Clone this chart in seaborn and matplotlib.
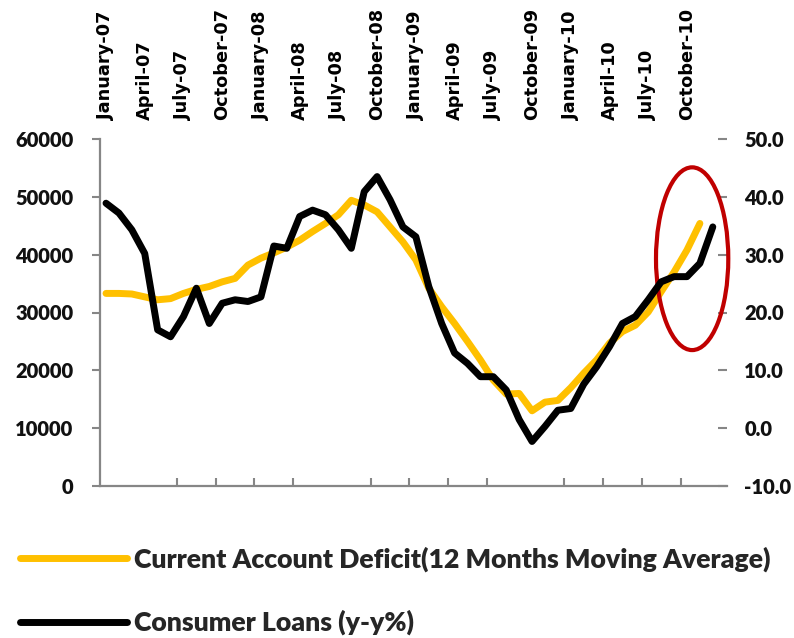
import numpy as np
import pandas as pd
import matplotlib
matplotlib.use("Agg")
import matplotlib.pyplot as plt
import seaborn as sns
from matplotlib.patches import Ellipse
from matplotlib.font_manager import FontProperties

# ---------------- data ----------------
months = pd.date_range("2007-01-01", periods=48, freq="MS").strftime("%b-%y").tolist()

tick_labels = ["January-07", "April-07", "July-07", "October-07",
               "January-08", "April-08", "July-08", "October-08",
               "January-09", "April-09", "July-09", "October-09",
               "January-10", "April-10", "July-10", "October-10"]

current_account = [33300, 33300, 33200, 32700, 32200, 32400, 33300, 34000,
                   34500, 35300, 35900, 38200, 39400, 40300, 41300, 42500,
                   44000, 45400, 46900, 49400, 48600, 47400, 44800, 42200,
                   39100, 34200, 31000, 28100, 25000, 21800, 18300, 15900,
                   16000, 13000, 14500, 14800, 17000, 19500, 21800, 24700,
                   26700, 27800, 30100, 33600, 37000, 40800, 45400]

consumer_loans = [38.9, 37.2, 34.3, 30.2, 17.0, 15.8, 19.3, 24.2,
                  18.1, 21.6, 22.2, 21.9, 22.7, 31.5, 31.1, 36.6,
                  37.7, 36.9, 34.3, 31.1, 40.9, 43.5, 39.5, 34.8,
                  33.1, 24.5, 18.1, 13.0, 11.2, 8.9, 8.9, 6.6,
                  1.5, -2.3, 0.3, 3.1, 3.4, 7.6, 10.6, 14.1,
                  18.1, 19.3, 22.2, 25.3, 26.2, 26.2, 28.5, 34.8]

left_ticks = [0, 10000, 20000, 30000, 40000, 50000, 60000]
right_ticks = [-10, 0, 10, 20, 30, 40, 50]

series_names = ["Current Account Deficit(12 Months Moving Average)",
                "Consumer Loans (y-y%)"]

# ---------------- style ----------------
sns.set_theme(style="white")
plt.rcParams['font.family'] = ['Lato', 'DejaVu Sans']

AXIS_GRAY = "#868686"
ORANGE = "#FFC000"

fig = plt.figure(figsize=(7.94, 6.38), dpi=100)
ax = fig.add_axes([100 / 794, 152 / 638, 627 / 794, 347 / 638])
ax2 = ax.twinx()

df_ca = pd.DataFrame({"idx": np.arange(len(current_account)),
                      "month": months[:len(current_account)],
                      "value": current_account})
df_cl = pd.DataFrame({"idx": np.arange(len(consumer_loans)),
                      "month": months[:len(consumer_loans)],
                      "value": consumer_loans})

sns.lineplot(data=df_ca, x="idx", y="value", ax=ax, color=ORANGE,
             linewidth=5, solid_capstyle="round", solid_joinstyle="round",
             legend=False)
sns.lineplot(data=df_cl, x="idx", y="value", ax=ax2, color="black",
             linewidth=5, solid_capstyle="round", solid_joinstyle="round",
             legend=False, zorder=3)

ax.set_xlim(-0.465, 48.1)
ax.set_ylim(0, 60000)
ax2.set_ylim(-10, 50)

# left axis
ax.set_yticks(left_ticks)
ax.set_yticklabels([f"{v}" for v in left_ticks])
ax.tick_params(axis="y", which="major", left=True, right=False, direction="out",
               length=6, width=1.5, color=AXIS_GRAY, pad=13,
               labelsize=14.5, labelcolor="#111111")
for lab in ax.get_yticklabels():
    lab.set_fontweight("heavy")

# top labels (major) + bottom marks (minor)
ax.set_xticks(np.arange(0, 48, 3))
ax.set_xticklabels(tick_labels, rotation=90, fontfamily="DejaVu Sans",
                   fontweight="bold", fontsize=12.8)
ax.tick_params(axis="x", which="major", bottom=False, top=True, labelbottom=False,
               labeltop=True, length=0, pad=14, labelcolor="black")
ax.set_xticks([5.5, 8.5, 11.5, 14.5, 20.5, 23.5, 26.5, 29.5,
               35.5, 38.5, 41.5, 44.5], minor=True)
ax.tick_params(axis="x", which="minor", bottom=True, top=False, direction="in",
               length=5.5, width=1.5, color=AXIS_GRAY)

for side in ["top", "right"]:
    ax.spines[side].set_visible(False)
for side in ["left", "bottom"]:
    ax.spines[side].set_color(AXIS_GRAY)
    ax.spines[side].set_linewidth(1.6)
for side in ["top", "right", "left", "bottom"]:
    ax2.spines[side].set_visible(False)

# right axis
ax2.set_yticks(right_ticks)
ax2.set_yticklabels([f"{v:.1f}" for v in right_ticks])
ax2.tick_params(axis="y", which="major", right=True, left=False, direction="in",
                length=6.5, width=1.5, color=AXIS_GRAY, pad=12.5,
                labelsize=14.5, labelcolor="#111111")
for lab in ax2.get_yticklabels():
    lab.set_fontweight("heavy")
ax.set_xlabel("")
ax.set_ylabel("")
ax2.set_ylabel("")
ax.grid(False)
ax2.grid(False)

# highlight ellipse around the latest observations
ell = Ellipse((45.4, 29.3), width=5.6, height=31.6, transform=ax2.transData,
              fill=False, edgecolor="#C00000", linewidth=3, clip_on=False,
              zorder=2)
ax2.add_patch(ell)

# legend
fig.legend(handles=[ax.lines[0], ax2.lines[0]], labels=series_names,
           loc="center left", bbox_to_anchor=(20 / 794, 1 - 591 / 638),
           frameon=False, prop=FontProperties(family="Lato", weight="heavy", size=19.2),
           handlelength=4.0, handletextpad=0.28, labelspacing=1.42,
           borderaxespad=0, borderpad=0)

fig.savefig("out.png", dpi=100)
